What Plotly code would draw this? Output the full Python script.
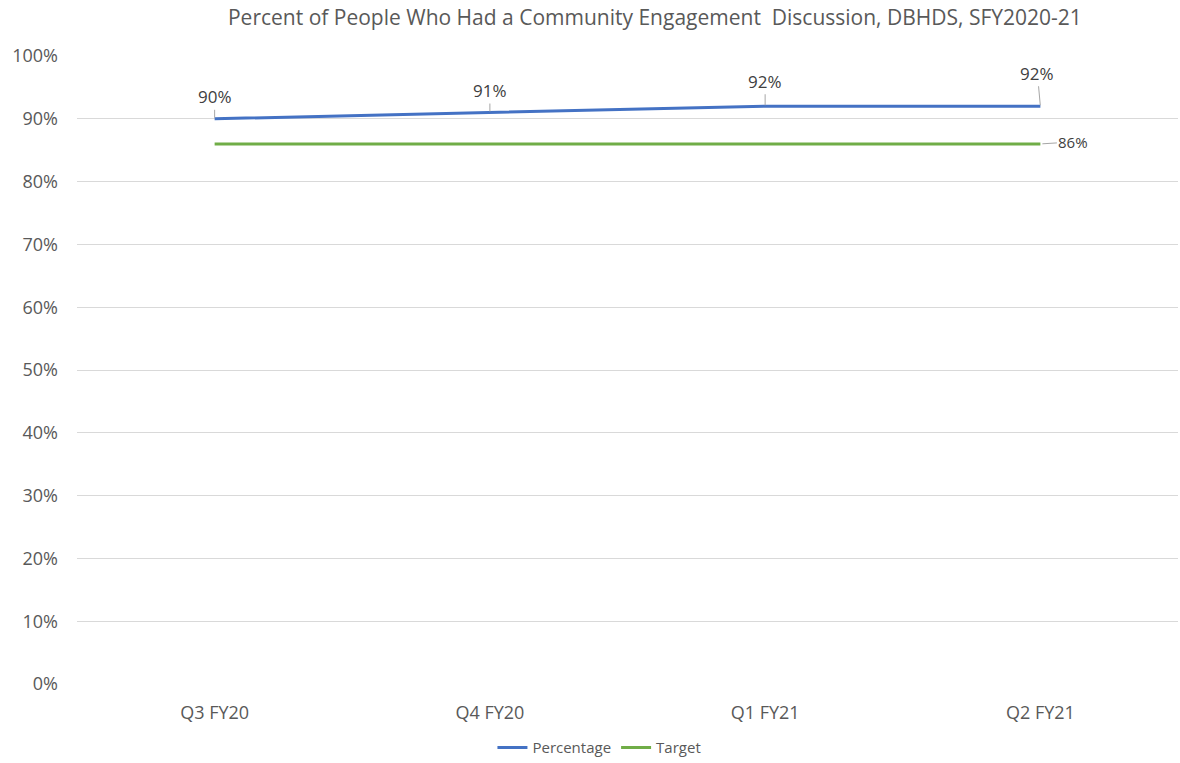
import plotly.graph_objects as go

quarters = ["Q3 FY20", "Q4 FY20", "Q1 FY21", "Q2 FY21"]
percentage = [90, 91, 92, 92]
target = [86, 86, 86, 86]
y_ticks = [0, 10, 20, 30, 40, 50, 60, 70, 80, 90, 100]

BLUE = "#4472C4"
GREEN = "#70AD47"
GRAY = "#595959"
FONT = "Open Sans"

fig = go.Figure()
fig.add_trace(go.Scatter(
    x=quarters, y=percentage, name="Percentage", mode="lines",
    line=dict(color=BLUE, width=3), hoverinfo="x+y",
))
fig.add_trace(go.Scatter(
    x=quarters, y=target, name="Target", mode="lines",
    line=dict(color=GREEN, width=3), hoverinfo="x+y",
))

# value labels for the percentage series, with short leader lines
label_offsets = [-22, -22, -25, -33]
annotations = []
for q, v, ay in zip(quarters, percentage, label_offsets):
    annotations.append(dict(
        x=q, y=v, xref="x", yref="y", text=f"{v}%",
        showarrow=True, arrowhead=0, arrowwidth=1, arrowcolor="#a6a6a6",
        ax=-3 if q == quarters[-1] else 0, ay=ay, standoff=1,
        font=dict(family=FONT, size=17, color="#404040"),
    ))
# target label at the end of the line
annotations.append(dict(
    x=quarters[-1], y=target[-1], xref="x", yref="y", text=f"{target[-1]}%",
    showarrow=True, arrowhead=0, arrowwidth=1, arrowcolor="#a6a6a6",
    ax=33, ay=-2, standoff=2,
    font=dict(family=FONT, size=15, color="#404040"),
))

fig.update_layout(
    width=1180, height=763,
    margin=dict(l=77, r=2, t=56, b=79),
    paper_bgcolor="white", plot_bgcolor="white",
    font=dict(family=FONT, color=GRAY),
    title=dict(
        text="Percent of People Who Had a Community Engagement  Discussion, DBHDS, SFY2020-21",
        x=0.555, xanchor="center", y=0.977, yanchor="middle",
        font=dict(family=FONT, size=21, color=GRAY),
    ),
    xaxis=dict(
        type="category", range=[-0.5, 3.5],
        showgrid=False, showline=False, zeroline=False, ticks="",
        tickfont=dict(family=FONT, size=18, color=GRAY),
        ticklabelstandoff=16,
    ),
    yaxis=dict(
        range=[0, 100], tickvals=y_ticks,
        ticktext=[f"{t}%" for t in y_ticks],
        showgrid=True, gridcolor="#d9d9d9", gridwidth=1,
        zeroline=False, showline=False, ticks="",
        tickfont=dict(family=FONT, size=18, color=GRAY),
        ticklabelstandoff=18,
    ),
    legend=dict(
        orientation="h", xref="container", yref="container",
        x=0.508, xanchor="center", y=0.02, yanchor="middle",
        font=dict(family=FONT, size=15, color=GRAY),
        itemwidth=30, tracegroupgap=0,
    ),
    annotations=annotations,
    showlegend=True,
)

fig.write_html("out.html")
